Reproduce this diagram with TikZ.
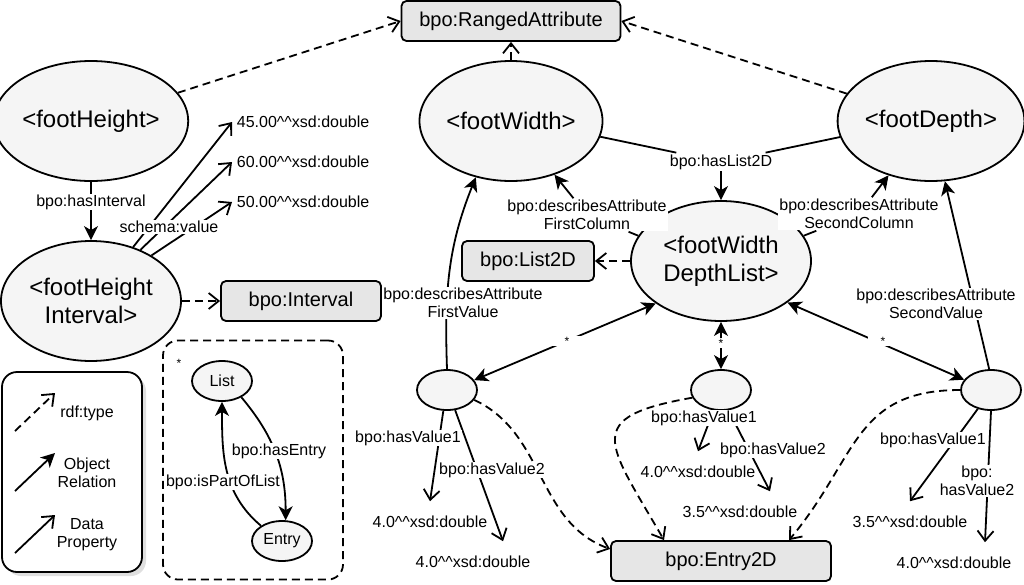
\documentclass[tikz,border=0pt]{standalone}
\usepackage{fontspec}
\setmainfont{Liberation Sans}
\usetikzlibrary{arrows.meta,shapes.geometric,shadows}
\definecolor{instfill}{HTML}{F5F5F5}
\definecolor{clsfill}{HTML}{E6E6E6}
\newcommand{\xsddbl}[1]{#1\textasciicircum\textasciicircum xsd:double}

\begin{document}
\begin{tikzpicture}[x=1pt,y=1pt,line width=1.8pt,
  inst/.style={ellipse,draw,fill=instfill,minimum width=180pt,minimum height=120pt,inner sep=0pt,align=center,font=\fontsize{24}{28}\selectfont},
  blank/.style={ellipse,draw,fill=instfill,minimum width=60pt,minimum height=40pt,inner sep=0pt,font=\fontsize{16}{18}\selectfont},
  cls/.style={draw,rounded corners=5pt,fill=clsfill,minimum height=40pt,font=\fontsize{20}{24}\selectfont},
  lbl/.style={fill=white,inner sep=1pt,align=center,font=\fontsize{16}{18}\selectfont},
  val/.style={inner xsep=4pt,inner ysep=14pt,font=\fontsize{16}{18}\selectfont},
  star/.style={fill=white,inner sep=1pt,minimum width=30pt,font=\fontsize{12}{14}\selectfont},
  obj/.style={-{Stealth[length=14pt,width=14pt,inset=4pt]}},
  objs/.style={{Stealth[length=14pt,width=14pt,inset=4pt]}-{Stealth[length=14pt,width=14pt,inset=4pt]}},
  dat/.style={-{Straight Barb[length=10pt,width=16pt]}},
  typ/.style={dat,dash pattern=on 8pt off 5pt}]

\useasboundingbox (0,0) rectangle (1024,-584);

% classes and instances
\node[cls,minimum width=219pt] (ra) at (511,-21) {bpo:RangedAttribute};
\node[inst] (fh) at (91,-121) {<footHeight>};
\node[inst] (fw) at (511,-121) {<footWidth>};
\node[inst] (fd) at (931,-121) {<footDepth>};
\node[inst] (fhi) at (91,-301) {<footHeight\\Interval>};
\node[cls,minimum width=160pt] (itv) at (301,-301) {bpo:Interval};
\node[inst] (lst) at (721,-261) {<footWidth\\DepthList>};
\node[cls,minimum width=132pt] (l2d) at (528,-261) {bpo:List2D};
\node[blank] (b1) at (447,-390) {};
\node[blank] (b2) at (721,-390) {};
\node[blank] (b3) at (991,-390) {};
\node[cls,minimum width=220pt] (e2d) at (721,-561) {bpo:Entry2D};

% literal values
\node[val,anchor=west] (v45) at (232,-122) {\xsddbl{45.00}};
\node[val,anchor=west] (v60) at (232,-162) {\xsddbl{60.00}};
\node[val,anchor=west] (v50) at (232,-202) {\xsddbl{50.00}};
\node[val] (v11) at (430,-522) {\xsddbl{4.0}};
\node[val] (v12) at (473,-562) {\xsddbl{4.0}};
\node[val] (v21) at (698,-472) {\xsddbl{4.0}};
\node[val] (v22) at (740,-512) {\xsddbl{3.5}};
\node[val] (v31) at (910,-522) {\xsddbl{3.5}};
\node[val] (v32) at (954,-563) {\xsddbl{4.0}};

% rdf:type
\draw[typ] (fh.18) -- (ra.west);
\draw[typ] (fw.north) -- (ra.south);
\draw[typ] (fd.162) -- (ra.east);
\draw[typ] (fhi.east) -- (itv.west);
\draw[typ] (lst.west) -- (l2d.east);
\draw[typ] (b1.-20) to[out=-25,in=160] ([yshift=12pt]e2d.west);
\draw[typ] (b2.195) to[out=190,in=120,looseness=2] ([xshift=-57pt]e2d.north);
\draw[typ] (b3.west) to[out=180,in=50,looseness=1.2] ([xshift=68pt]e2d.north);

% object relations
\draw[obj] (fh) -- (fhi);
\node[lbl] (hi) at (91,-202) {bpo:hasInterval};

\node[lbl] (hl) at (721,-162) {bpo:hasList2D};
\draw (fw.-10) -- (hl);
\draw (fd.190) -- (hl);
\draw[obj] (hl) -- (lst);

\node[lbl] (dfc) at (587,-215) {bpo:describesAttribute\\FirstColumn};
\draw (lst.163) -- (dfc);
\draw[obj] (dfc) -- (fw.-51);
\node[lbl] (dsc) at (859,-214) {bpo:describesAttribute\\SecondColumn};
\draw (lst.17) -- (dsc);
\draw[obj] (dsc) -- (fd.232);

\draw[obj] (b1.north) to[out=92,in=248] (fw.238);
\node[lbl] (dfv) at (463,-303) {bpo:describesAttribute\\FirstValue};
\draw[obj] (b3.95) -- (fd.283);
\node[lbl] (dsv) at (936,-304) {bpo:describesAttribute\\SecondValue};

\draw[objs] (b1.20) -- (lst.213);
\node[star] (s1) at (567,-341) {*};
\draw[objs] (b2.north) -- (lst.south);
\node[star] (s2) at (721,-343) {*};
\draw[objs] (lst.-32) -- (b3.159);
\node[star] (s3) at (883,-341) {*};

% data properties
\draw[dat] (fhi.52) -- (v45.west);
\draw[dat] (fhi.46) -- (v60.west);
\draw[dat] (fhi.37) -- (v50.west);
\node[lbl] (sv) at (169,-227) {schema:value};

\draw[dat] (b1.260) -- (v11.north);
\draw[dat] (b1.292) -- ([xshift=30pt]v12.north);
\draw[dat] (b2.250) -- (v21.north);
\draw[dat] (b2.290) -- ([xshift=30pt]v22.north);
\draw[dat] (b3.235) -- (v31.north);
\draw[dat] (b3.270) -- ([xshift=31pt]v32.north);
\node[lbl] (h11) at (408,-438) {bpo:hasValue1};
\node[lbl] (h12) at (492,-470) {bpo:hasValue2};
\node[lbl] (h21) at (704,-418) {bpo:hasValue1};
\node[lbl] (h22) at (773,-450) {bpo:hasValue2};
\node[lbl] (h31) at (933,-440) {bpo:hasValue1};
\node[lbl] (h32) at (977,-481) {bpo:\\hasValue2};

% list / entry pattern
\node[draw,dash pattern=on 8pt off 5pt,rounded corners=15pt,minimum width=180pt,minimum height=239pt] (box) at (253,-460) {};
\node[font=\fontsize{12}{14}\selectfont] (bs) at (179,-363) {*};
\node[blank] (ls) at (222,-381) {List};
\node[blank] (en) at (282,-541) {Entry};
\draw[obj] (ls.-40) to[out=-50,in=90] (en.80);
\draw[obj] (en.144) to[out=140,in=-90] (ls.south);
\node[lbl] (he) at (279,-451) {bpo:hasEntry};
\node[lbl] (ip) at (223,-482) {bpo:isPartOfList};

% legend
\node[draw,rounded corners=15pt,minimum width=140pt,minimum height=200pt,fill=white,
  drop shadow={shadow xshift=4pt,shadow yshift=-4pt,opacity=.25}] (leg) at (72,-472) {};
\foreach \y/\sty/\txt [count=\i] in {413/typ/rdf:type,473/obj/Object\\Relation,535/dat/Data\\Property}{
  \coordinate (la\i) at (15,-\y-18);
  \coordinate (lb\i) at (55,-\y+20);
  \draw[\sty] (la\i) -- (lb\i);
  \node[lbl,fill=none] (lt\i) at (87,-\y) {\txt};
}
\end{tikzpicture}
\end{document}
